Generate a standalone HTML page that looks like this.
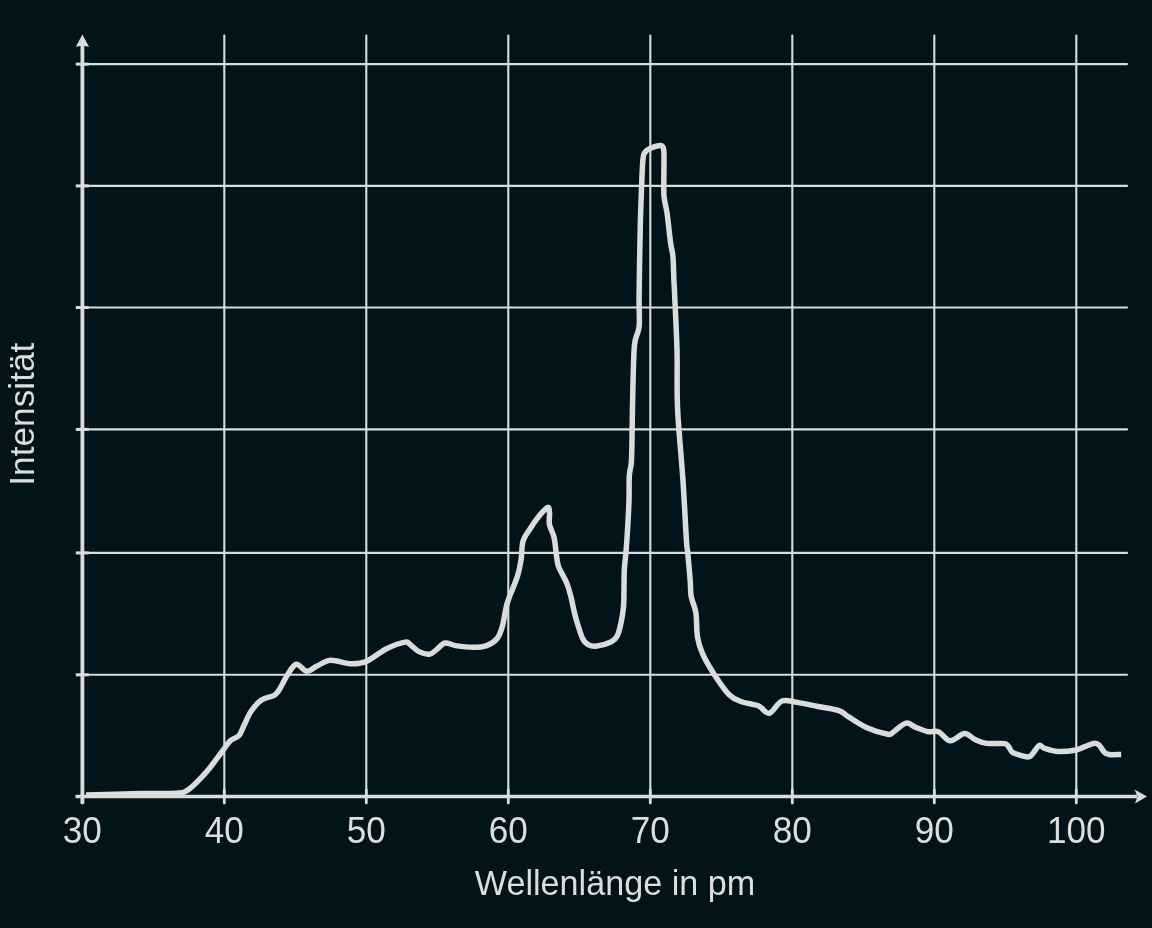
<!DOCTYPE html>
<html><head><meta charset="utf-8"><style>
html,body{margin:0;padding:0;background:#02141a;}
body{width:1152px;height:928px;overflow:hidden;position:relative;}
svg{position:absolute;left:0;top:0;}
.t{font-family:"Liberation Sans",sans-serif;fill:#dcdddd;}
svg{will-change:transform;}
</style></head><body>
<svg width="1152" height="928" viewBox="0 0 1152 928">
<rect width="1152" height="928" fill="#02141a"/>
<line x1="224.3" y1="35.5" x2="224.3" y2="796" stroke="#d9dcdc" stroke-width="2.1" stroke-linecap="round"/>
<line x1="366.3" y1="35.5" x2="366.3" y2="796" stroke="#d9dcdc" stroke-width="2.1" stroke-linecap="round"/>
<line x1="508.3" y1="35.5" x2="508.3" y2="796" stroke="#d9dcdc" stroke-width="2.1" stroke-linecap="round"/>
<line x1="650.3" y1="35.5" x2="650.3" y2="796" stroke="#d9dcdc" stroke-width="2.1" stroke-linecap="round"/>
<line x1="792.3" y1="35.5" x2="792.3" y2="796" stroke="#d9dcdc" stroke-width="2.1" stroke-linecap="round"/>
<line x1="934.3" y1="35.5" x2="934.3" y2="796" stroke="#d9dcdc" stroke-width="2.1" stroke-linecap="round"/>
<line x1="1076.3" y1="35.5" x2="1076.3" y2="796" stroke="#d9dcdc" stroke-width="2.1" stroke-linecap="round"/>
<line x1="82" y1="64.1" x2="1127" y2="64.1" stroke="#d9dcdc" stroke-width="2.1" stroke-linecap="round"/>
<line x1="82" y1="185.9" x2="1127" y2="185.9" stroke="#d9dcdc" stroke-width="2.1" stroke-linecap="round"/>
<line x1="82" y1="307.5" x2="1127" y2="307.5" stroke="#d9dcdc" stroke-width="2.1" stroke-linecap="round"/>
<line x1="82" y1="429.4" x2="1127" y2="429.4" stroke="#d9dcdc" stroke-width="2.1" stroke-linecap="round"/>
<line x1="82" y1="552.9" x2="1127" y2="552.9" stroke="#d9dcdc" stroke-width="2.1" stroke-linecap="round"/>
<line x1="82" y1="674.8" x2="1127" y2="674.8" stroke="#d9dcdc" stroke-width="2.1" stroke-linecap="round"/>
<line x1="75.8" y1="64.1" x2="88.8" y2="64.1" stroke="#d9dcdc" stroke-width="3"/>
<line x1="75.8" y1="185.9" x2="88.8" y2="185.9" stroke="#d9dcdc" stroke-width="3"/>
<line x1="75.8" y1="307.5" x2="88.8" y2="307.5" stroke="#d9dcdc" stroke-width="3"/>
<line x1="75.8" y1="429.4" x2="88.8" y2="429.4" stroke="#d9dcdc" stroke-width="3"/>
<line x1="75.8" y1="552.9" x2="88.8" y2="552.9" stroke="#d9dcdc" stroke-width="3"/>
<line x1="75.8" y1="674.8" x2="88.8" y2="674.8" stroke="#d9dcdc" stroke-width="3"/>
<line x1="82.3" y1="790" x2="82.3" y2="803" stroke="#d9dcdc" stroke-width="2.8" stroke-linecap="round"/>
<line x1="224.3" y1="790" x2="224.3" y2="803" stroke="#d9dcdc" stroke-width="2.8" stroke-linecap="round"/>
<line x1="366.3" y1="790" x2="366.3" y2="803" stroke="#d9dcdc" stroke-width="2.8" stroke-linecap="round"/>
<line x1="508.3" y1="790" x2="508.3" y2="803" stroke="#d9dcdc" stroke-width="2.8" stroke-linecap="round"/>
<line x1="650.3" y1="790" x2="650.3" y2="803" stroke="#d9dcdc" stroke-width="2.8" stroke-linecap="round"/>
<line x1="792.3" y1="790" x2="792.3" y2="803" stroke="#d9dcdc" stroke-width="2.8" stroke-linecap="round"/>
<line x1="934.3" y1="790" x2="934.3" y2="803" stroke="#d9dcdc" stroke-width="2.8" stroke-linecap="round"/>
<line x1="1076.3" y1="790" x2="1076.3" y2="803" stroke="#d9dcdc" stroke-width="2.8" stroke-linecap="round"/>
<line x1="82.4" y1="45" x2="82.4" y2="803.7" stroke="#d9dcdc" stroke-width="3.8"/>
<polygon points="82.4,34.5 75.8,46.8 82.4,45.8 89,46.8" fill="#d9dcdc"/>
<line x1="75.5" y1="796.5" x2="1137" y2="796.5" stroke="#d9dcdc" stroke-width="3.6"/>
<polygon points="1147,796.6 1134.5,789.6 1137.5,796.6 1135,803.5" fill="#d9dcdc"/>
<path d="M86.0 795.0 C95.0 794.8 125.0 793.9 140.0 793.6 C155.0 793.3 168.3 793.6 176.0 793.2 C183.7 792.8 182.5 793.1 186.0 791.2 C189.5 789.3 193.2 785.6 197.0 782.0 C200.8 778.4 204.2 774.7 208.5 769.5 C212.8 764.3 218.9 755.8 222.5 751.0 C226.1 746.2 227.6 743.3 230.3 740.7 C233.1 738.1 236.7 738.1 239.0 735.5 C241.3 732.9 242.2 729.0 244.2 725.0 C246.2 721.0 248.2 715.4 251.1 711.2 C254.0 707.0 257.7 702.5 261.5 699.9 C265.3 697.3 270.8 697.2 273.7 695.6 C276.6 694.0 276.6 693.8 278.9 690.3 C281.2 686.8 284.7 679.0 287.6 674.7 C290.5 670.4 293.1 664.9 296.3 664.3 C299.5 663.7 303.2 671.0 306.7 671.3 C310.2 671.6 313.2 667.8 317.1 666.0 C321.1 664.2 324.7 660.7 330.4 660.3 C336.1 659.9 345.2 663.6 351.3 663.8 C357.4 663.9 361.1 663.7 366.9 661.2 C372.7 658.7 379.6 652.2 386.0 649.0 C392.4 645.8 401.1 642.8 405.1 642.1 C409.2 641.4 408.0 643.1 410.3 644.7 C412.6 646.3 415.8 650.0 419.0 651.6 C422.2 653.2 426.5 654.5 429.4 654.2 C432.3 653.9 433.7 651.8 436.3 649.9 C438.9 648.0 441.8 643.7 445.0 643.0 C448.2 642.3 450.8 644.9 455.4 645.6 C460.0 646.3 467.6 647.3 472.8 647.3 C478.0 647.3 482.6 647.0 486.7 645.6 C490.8 644.2 494.5 641.8 497.1 638.6 C499.7 635.4 500.9 631.4 502.3 626.5 C503.8 621.6 504.8 613.5 505.8 609.1 C506.8 604.7 506.4 605.4 508.3 599.9 C510.2 594.4 515.4 582.8 517.5 576.1 C519.6 569.4 520.2 565.4 521.1 559.6 C522.0 553.8 521.5 546.5 523.0 541.3 C524.5 536.1 527.5 532.8 530.3 528.5 C533.0 524.2 536.6 519.1 539.5 515.6 C542.4 512.1 546.0 507.8 547.7 507.4 C549.4 506.9 549.2 510.0 549.5 512.9 C549.8 515.8 548.7 520.7 549.5 524.8 C550.3 528.9 552.9 532.1 554.1 537.6 C555.3 543.1 556.0 552.9 556.8 557.8 C557.6 562.7 557.0 562.6 558.7 566.9 C560.4 571.2 564.9 578.4 566.9 583.4 C568.9 588.4 569.9 592.7 571.0 597.0 C572.1 601.3 572.7 605.1 573.6 609.0 C574.5 612.9 575.0 615.6 576.5 620.4 C578.0 625.2 580.4 633.8 582.3 637.9 C584.2 642.0 585.7 643.3 588.1 644.7 C590.5 646.1 593.0 646.6 596.9 646.1 C600.8 645.6 608.0 643.5 611.4 641.8 C614.8 640.1 615.6 639.2 617.2 636.0 C618.8 632.8 620.1 627.2 621.1 622.4 C622.1 617.5 623.0 612.4 623.5 606.9 C624.0 601.4 623.9 595.5 624.0 589.4 C624.1 583.2 624.0 576.3 624.3 570.0 C624.6 563.7 625.5 558.4 626.0 551.8 C626.5 545.2 627.0 539.2 627.5 530.6 C628.0 522.0 628.7 509.5 629.0 500.4 C629.3 491.3 628.9 482.3 629.3 476.0 C629.7 469.7 630.8 468.7 631.3 462.7 C631.8 456.7 631.8 451.8 632.0 440.0 C632.2 428.2 632.4 407.5 632.8 391.7 C633.2 375.9 633.5 355.8 634.5 345.0 C635.5 334.2 638.3 335.0 639.1 326.8 C639.9 318.6 638.9 313.0 639.1 296.0 C639.3 279.0 639.9 241.7 640.3 224.8 C640.7 207.9 640.9 205.5 641.3 194.7 C641.7 183.9 642.2 167.2 642.9 160.0 C643.6 152.8 644.0 153.8 645.4 151.8 C646.8 149.8 648.6 149.1 651.0 148.0 C653.4 146.9 657.9 145.5 659.9 145.4 C661.9 145.3 662.5 145.7 663.2 147.5 C663.9 149.3 663.9 149.8 664.0 156.0 C664.1 162.2 663.8 178.0 663.8 185.0 C663.8 192.0 663.6 193.2 664.2 198.0 C664.8 202.8 666.2 206.7 667.2 214.0 C668.2 221.3 669.5 234.6 670.4 241.6 C671.3 248.6 672.3 249.8 672.9 256.2 C673.5 262.6 673.6 273.4 673.9 280.0 C674.2 286.6 674.2 284.3 674.7 296.0 C675.2 307.7 676.5 331.2 677.0 350.0 C677.5 368.8 676.6 387.7 677.6 409.0 C678.6 430.3 681.3 456.1 682.8 477.9 C684.3 499.7 685.6 527.5 686.4 540.0 C687.2 552.5 687.2 546.2 687.8 552.9 C688.4 559.6 689.6 573.1 690.2 580.4 C690.8 587.7 690.2 591.2 691.2 596.6 C692.2 602.0 694.9 606.1 695.9 612.8 C696.9 619.5 696.4 630.3 697.5 637.0 C698.6 643.7 699.6 647.1 702.3 653.2 C705.0 659.4 709.4 667.0 713.9 673.9 C718.4 680.8 724.6 690.1 729.2 694.7 C733.8 699.3 736.9 699.9 741.7 701.7 C746.6 703.6 753.7 703.9 758.3 705.8 C762.9 707.7 765.5 714.0 769.4 713.2 C773.3 712.4 777.3 702.8 781.9 701.0 C786.5 699.2 791.2 701.5 797.2 702.4 C803.2 703.3 811.0 705.1 818.0 706.5 C825.0 707.9 833.8 709.0 838.9 710.7 C844.0 712.4 843.9 714.0 848.6 716.9 C853.3 719.8 860.4 724.9 866.9 727.8 C873.4 730.7 883.4 733.5 887.8 734.3 C892.1 735.0 890.0 734.1 893.0 732.3 C896.0 730.4 902.3 724.1 906.0 723.2 C909.7 722.3 911.4 725.7 915.1 727.1 C918.8 728.5 924.2 730.9 928.1 731.7 C932.0 732.5 934.8 730.2 938.5 731.7 C942.2 733.2 945.9 740.5 950.3 740.8 C954.6 741.1 960.5 733.8 964.6 733.6 C968.7 733.4 971.3 737.9 975.0 739.5 C978.7 741.1 981.8 742.7 986.7 743.4 C991.6 744.1 1000.8 742.9 1004.6 743.6 C1008.4 744.3 1008.0 746.3 1009.4 747.8 C1010.8 749.3 1010.0 751.2 1013.1 752.7 C1016.2 754.2 1024.5 756.7 1027.7 756.9 C1030.9 757.1 1030.6 755.8 1032.5 753.9 C1034.4 752.0 1037.2 746.3 1039.2 745.4 C1041.2 744.5 1041.6 747.4 1044.7 748.4 C1047.8 749.4 1053.0 751.2 1058.0 751.5 C1063.0 751.8 1070.5 751.0 1075.0 750.2 C1079.5 749.4 1081.5 747.8 1084.8 746.6 C1088.0 745.4 1092.1 743.4 1094.5 743.2 C1096.9 743.0 1097.8 743.9 1099.4 745.4 C1101.0 746.9 1102.6 750.6 1104.2 752.1 C1105.8 753.6 1106.3 754.1 1109.1 754.5 C1111.9 754.9 1119.2 754.5 1121.2 754.5" fill="none" stroke="#d9dcdc" stroke-width="5.5" stroke-linejoin="round" stroke-linecap="butt"/>
<text class="t" font-size="37" text-anchor="middle" transform="translate(82.3,842.7) scale(0.95,1)" x="0" y="0">30</text>
<text class="t" font-size="37" text-anchor="middle" transform="translate(224.3,842.7) scale(0.95,1)" x="0" y="0">40</text>
<text class="t" font-size="37" text-anchor="middle" transform="translate(366.3,842.7) scale(0.95,1)" x="0" y="0">50</text>
<text class="t" font-size="37" text-anchor="middle" transform="translate(508.3,842.7) scale(0.95,1)" x="0" y="0">60</text>
<text class="t" font-size="37" text-anchor="middle" transform="translate(650.3,842.7) scale(0.95,1)" x="0" y="0">70</text>
<text class="t" font-size="37" text-anchor="middle" transform="translate(792.3,842.7) scale(0.95,1)" x="0" y="0">80</text>
<text class="t" font-size="37" text-anchor="middle" transform="translate(934.3,842.7) scale(0.95,1)" x="0" y="0">90</text>
<text class="t" font-size="37" text-anchor="middle" transform="translate(1076.3,842.7) scale(0.95,1)" x="0" y="0">100</text>
<text class="t" x="0" y="0" font-size="35" text-anchor="middle" transform="translate(615,895) scale(0.976,1)">Wellenlänge in pm</text>
<text class="t" x="0" y="0" font-size="36" text-anchor="middle" transform="translate(34,414.2) rotate(-90) scale(0.98,1)">Intensität</text>
</svg></body></html>
